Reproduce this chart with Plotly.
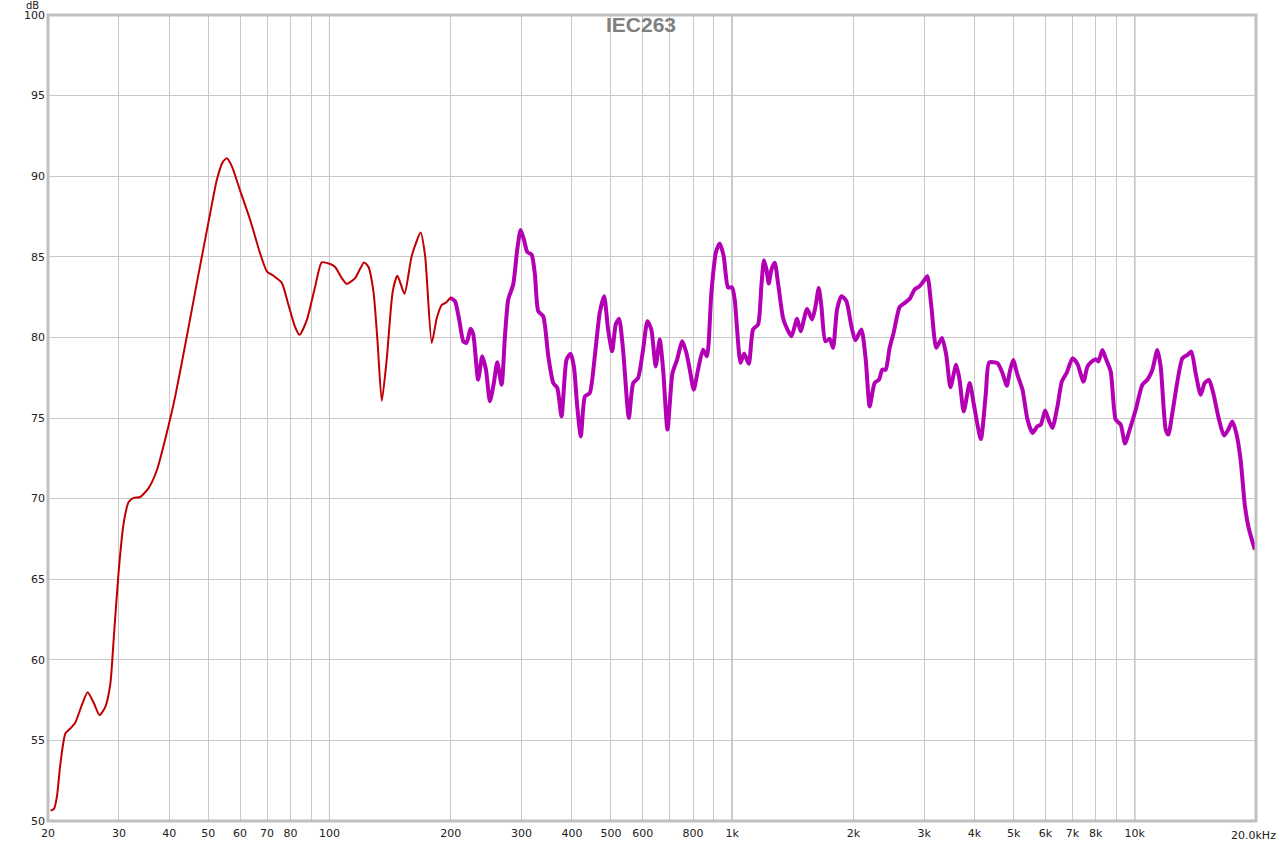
import plotly.graph_objects as go
import math

# ---- data ----
red_freq = [20.3, 20.7, 21.05, 21.45, 22.08, 22.72, 23.37, 24.28, 25.08, 25.96, 26.86, 27.74, 28.55,
            29.21, 30.0, 30.81, 31.7, 32.62, 33.89, 35.55, 37.27, 39.85, 41.4, 44.25, 46.86, 50.07,
            52.53, 54.36, 55.63, 57.24, 60.03, 63.56, 67.3, 69.9, 72.6, 76.1, 79.1, 82.2, 84.3, 87.8,
            92.1, 95.7, 100, 103.3, 107.3, 110.4, 115.8, 121.9, 125, 128.6, 131.6, 134.9, 138.8,
            143.6, 147.5, 153.6, 160.1, 168.5, 172.8, 179.5, 184.7, 190.1, 194.8, 200.4]
red_db = [50.64, 50.75, 51.53, 53.47, 55.41, 55.74, 56.1, 57.2, 57.99, 57.35, 56.57, 57.07, 58.46,
          61.79, 65.67, 68.44, 69.77, 70.04, 70.1, 70.65, 71.76, 74.53, 76.34, 80.08, 83.4, 87.15,
          89.78, 90.89, 91.11, 90.61, 89.09, 87.28, 85.2, 84.1, 83.82, 83.4, 82.02, 80.63, 80.16, 81.05,
          83.13, 84.65, 84.57, 84.37, 83.68, 83.32, 83.68, 84.65, 84.37, 82.85, 79.8, 76.06, 78.69,
          82.85, 83.82, 82.71, 85.07, 86.51, 85.07, 79.66, 81.19, 82.02, 82.16, 82.52]

mag_freq = [200, 205, 210, 215, 219, 224, 227.6, 234, 239.6, 244.7, 250.3, 256, 261, 267.6, 272.8,
            278, 286, 292.7, 298.3, 304, 310, 317.7, 323.8, 330, 339.6, 349.5, 359.6, 368, 377, 388,
            397, 404.6, 412.4, 421, 431, 443, 456, 469, 481, 492, 503.6, 514, 524, 536, 554, 568, 584,
            601, 616, 630, 646, 661, 674, 691, 711, 730, 752, 770, 785, 803, 823, 847, 866, 888, 911,
            932, 953, 977, 1000, 1015, 1029, 1049, 1071, 1100, 1127, 1160, 1182, 1200, 1217, 1233,
            1252, 1276, 1300, 1338, 1372, 1404, 1450, 1480, 1535, 1580, 1610, 1641, 1666, 1705, 1748,
            1781, 1822, 1868, 1922, 1978, 2023, 2094, 2147, 2196, 2259, 2316, 2360, 2406, 2461, 2518,
            2607, 2683, 2760, 2840, 2922, 2989, 3053, 3124, 3214, 3320, 3403, 3485, 3600, 3670, 3760,
            3890, 3980, 4147, 4267, 4349, 4561, 4693, 4811, 4894, 4988, 5113, 5262, 5414, 5571, 5732,
            5843, 5990, 6128, 6245, 6426, 6588, 6778, 7002, 7205, 7457, 7629, 7821, 7998, 8121, 8308,
            8469, 8714, 8966, 9226, 9457, 9714, 10053, 10443, 10745, 11055, 11376, 11596, 11934, 12117,
            12398, 12757, 13127, 13506, 13818, 14164, 14574, 14913, 15286, 15668, 16183, 16652, 17067,
            17463, 17865, 18311, 18771, 19204, 19873]
mag_db = [82.45, 82.25, 81.1, 79.76, 79.66, 80.53, 80.18, 77.38, 78.83, 78.0, 76.04, 77.17, 78.46,
          77.07, 80.07, 82.35, 83.28, 85.46, 86.66, 86.08, 85.29, 85.14, 83.9, 81.63, 81.31, 78.83,
          77.17, 76.86, 75.1, 78.62, 78.99, 78.2, 75.72, 73.86, 76.34, 76.55, 78.83, 81.52, 82.56,
          80.49, 79.14, 80.8, 81.15, 79.24, 75.0, 77.17, 77.48, 79.24, 81.0, 80.49, 78.2, 79.87, 78.0,
          74.28, 77.79, 78.62, 79.76, 79.03, 78.0, 76.76, 78.0, 79.24, 78.83, 82.76, 85.25, 85.83,
          85.04, 83.1, 83.1, 82.35, 80.49, 78.42, 79.0, 78.37, 80.49, 80.8, 83.18, 84.79, 84.21, 83.34,
          84.21, 84.63, 83.39, 81.21, 80.49, 80.07, 81.15, 80.38, 81.77, 81.11, 81.89, 83.07, 81.94,
          79.76, 79.91, 79.35, 81.73, 82.56, 82.25, 80.69, 79.82, 80.49, 78.62, 75.72, 77.17, 77.38,
          78.0, 78.0, 79.35, 80.28, 81.89, 82.14, 82.39, 82.97, 83.18, 83.49, 83.8, 81.94, 79.35,
          79.97, 78.9, 76.9, 78.3, 77.4, 75.4, 77.17, 75.9, 73.7, 76.54, 78.44, 78.4, 77.78, 77.0,
          77.88, 78.6, 77.67, 76.75, 74.9, 74.07, 74.49, 74.59, 75.47, 74.79, 74.38, 75.72, 77.26,
          77.82, 78.7, 78.35, 77.26, 78.19, 78.5, 78.64, 78.5, 79.22, 78.7, 77.88, 74.9, 74.59, 73.42,
          74.28, 75.51, 77.06, 77.37, 77.98, 79.22, 78.19, 74.28, 73.97, 75.31, 77.26, 78.7, 78.91,
          79.12, 77.78, 76.44, 77.16, 77.37, 76.54, 74.9, 73.91, 74.28, 74.79, 74.07, 72.43, 69.55,
          68.11, 66.83]

grid_freqs = [20, 30, 40, 50, 60, 70, 80, 90, 100, 200, 300, 400, 500, 600, 700, 800, 900, 1000,
              2000, 3000, 4000, 5000, 6000, 7000, 8000, 9000, 10000, 20000]
grid_labels = ["20", "30", "40", "50", "60", "70", "80", "", "100", "200", "300", "400", "500", "600",
               "", "800", "", "1k", "2k", "3k", "4k", "5k", "6k", "7k", "8k", "", "10k", ""]
end_label = "20.0kHz"
decade_freqs = [100, 1000, 10000]
y_ticks = [50, 55, 60, 65, 70, 75, 80, 85, 90, 95, 100]

fig = go.Figure()
fig.add_trace(go.Scatter(x=red_freq, y=red_db, mode="lines",
                         line=dict(color="#c00000", width=2, shape="spline", smoothing=0.6),
                         hoverinfo="skip", showlegend=False))
fig.add_trace(go.Scatter(x=mag_freq, y=mag_db, mode="lines",
                         line=dict(color="#b400b4", width=4, shape="spline", smoothing=0.6),
                         hoverinfo="skip", showlegend=False))

for f in decade_freqs:
    fig.add_shape(type="line", xref="x", yref="paper", x0=f, x1=f, y0=0, y1=1,
                  line=dict(color="#808080", width=1), layer="between")

fig.add_shape(type="rect", xref="paper", yref="paper", x0=0, x1=1, y0=0, y1=1,
              line=dict(color="#c0c0c0", width=3), layer="above")

fig.update_layout(
    width=1280, height=843,
    margin=dict(l=48, r=24, t=15, b=22, autoexpand=False),
    paper_bgcolor="white", plot_bgcolor="white",
    font=dict(family="DejaVu Sans", size=11, color="#202020"),
    xaxis=dict(type="log", range=[math.log10(20), math.log10(20000)],
               tickmode="array", tickvals=grid_freqs, ticktext=grid_labels,
               showgrid=True, gridcolor="#c8c8c8", gridwidth=1, automargin=False,
               ticks="", zeroline=False, showline=False, ticklen=0, ticklabelstandoff=4),
    yaxis=dict(range=[50, 100], tickmode="array", tickvals=y_ticks, automargin=False,
               showgrid=True, gridcolor="#c8c8c8", gridwidth=1, ticklabelstandoff=2,
               ticks="", zeroline=False, showline=False),
    annotations=[
        dict(text="<b>IEC263</b>", xref="paper", yref="paper", x=0.4913, y=0.9876,
             xanchor="center", yanchor="middle", showarrow=False,
             font=dict(family="Liberation Sans", size=21, color="#808080")),
        dict(text="dB", xref="paper", yref="paper", x=0.0, y=1.0, xanchor="right",
             yanchor="bottom", xshift=-7, yshift=2, showarrow=False,
             font=dict(family="DejaVu Sans", size=10, color="#202020")),
        dict(text=end_label, xref="paper", yref="paper", x=1.0, y=0.0, xanchor="right",
             yanchor="top", xshift=22, yshift=-6, showarrow=False,
             font=dict(family="DejaVu Sans", size=11, color="#202020")),
    ],
)

fig.write_html("out.html", config={"displayModeBar": False},
               post_script="document.body.style.margin='0px';")
